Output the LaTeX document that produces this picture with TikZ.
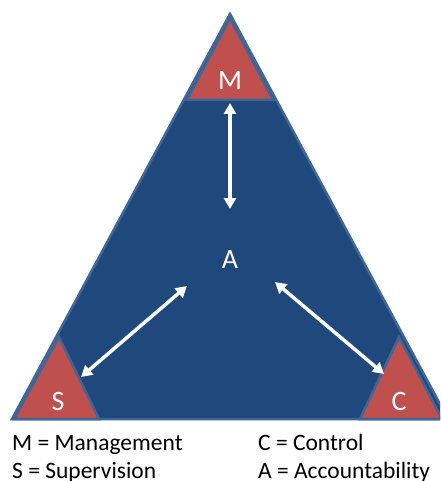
\documentclass[tikz,border=0pt]{standalone}
\usepackage{fontspec}
\setmainfont{Carlito}
\usetikzlibrary{arrows.meta}
\definecolor{navy}{HTML}{1F497D}
\definecolor{rim}{HTML}{3E6697}
\definecolor{brick}{HTML}{C0504D}
\tikzset{
  bigtri/.style={fill=navy, draw=rim, line width=2.5pt, line join=miter},
  cornertri/.style={fill=brick, draw=rim, line width=2.5pt, line join=miter},
  letter/.style={text=white, anchor=base, inner sep=0pt, font=\fontsize{28}{30}\selectfont},
  legend/.style={text=black, anchor=base west, inner sep=0pt, font=\fontsize{23.5}{26}\selectfont},
  link/.style={draw=white, line width=3.5pt, {Triangle[length=11pt,width=12pt]}-{Triangle[length=11pt,width=12pt]}}
}
\begin{document}
\begin{tikzpicture}[x=1pt,y=-1pt]
  \useasboundingbox (0,0) rectangle (440,481);
  \clip (0,0) rectangle (440,481);

  % outer triangle
  \path[bigtri] (12,419) -- (230,14) -- (448,419) -- cycle;

  % corner triangles
  \path[cornertri] (187,100) -- (230,18) -- (273,100) -- cycle;
  \path[cornertri] (14,419) -- (59,337) -- (99,419) -- cycle;
  \path[cornertri] (360,419) -- (399,337) -- (442,419) -- cycle;

  % letters
  \node[letter] (m) at (230,90) {M};
  \node[letter] (a) at (230,268) {A};
  \node[letter] (s) at (58,410) {S};
  \node[letter] (c) at (399,410) {C};

  % arrow end points
  \coordinate (mt) at (230,103);
  \coordinate (mb) at (230,209);
  \coordinate (st) at (187,286);
  \coordinate (sb) at (81,377);
  \coordinate (ct) at (275,282);
  \coordinate (cb) at (384,374);

  \draw[link] (mt) -- (mb);
  \draw[link] (st) -- (sb);
  \draw[link] (ct) -- (cb);

  % legend
  \node[legend] (lm) at (12,450) {M = Management};
  \node[legend] (ls) at (12,478) {S = Supervision};
  \node[legend] (lc) at (258,450) {C = Control};
  \node[legend] (la) at (258,478) {A = Accountability};
\end{tikzpicture}
\end{document}
